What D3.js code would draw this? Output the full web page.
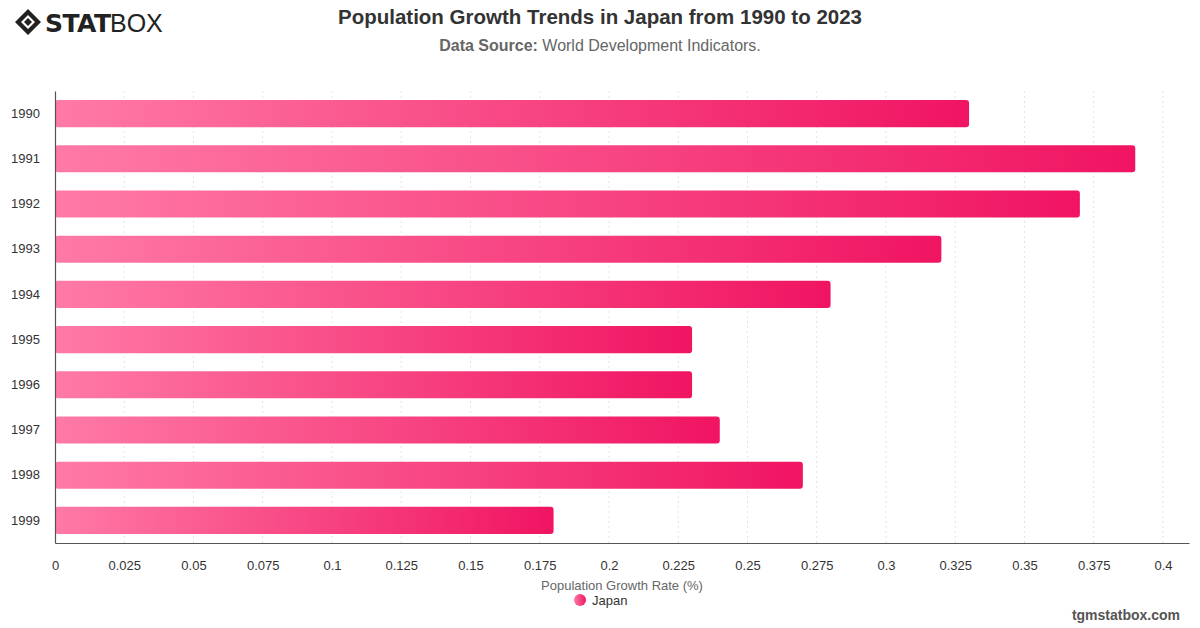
<!DOCTYPE html>
<html>
<head>
<meta charset="utf-8">
<script src="https://cdn.jsdelivr.net/npm/d3@7"></script>
<style>
  body { margin: 0; background: #fff; font-family: "Helvetica Neue", "Liberation Sans", Arial, sans-serif; }
  .tick text { fill: #333; font-size: 13px; }
</style>
</head>
<body>
<script>
// Population growth chart

var years = ['1990', '1991', '1992', '1993', '1994', '1995', '1996', '1997', '1998', '1999'];
var growthRates = [0.33, 0.39, 0.37, 0.32, 0.28, 0.23, 0.23, 0.24, 0.27, 0.18];
var xTicks = [0, 0.025, 0.05, 0.075, 0.1, 0.125, 0.15, 0.175, 0.2, 0.225, 0.25, 0.275, 0.3, 0.325, 0.35, 0.375, 0.4];

var data = years.map(function(y, i) { return { year: y, value: growthRates[i] }; });

var svg = d3.select('body').append('svg')
  .attr('width', 1200)
  .attr('height', 628);

var margin = { top: 91, right: 11, bottom: 85, left: 55 };
var width = 1200 - margin.left - margin.right,
  height = 628 - margin.top - margin.bottom;

var x = d3.scaleLinear().domain([0, 0.4094]).range([0, width]);
var y = d3.scaleBand().domain(years).range([0, height]).paddingInner(0.4).paddingOuter(0.2);

var defs = svg.append('defs');
var grad = defs.append('linearGradient').attr('id', 'barGrad')
  .attr('x1', '0%').attr('x2', '100%').attr('y1', '0%').attr('y2', '0%');
grad.append('stop').attr('offset', '0%').attr('stop-color', '#ff7aa6');
grad.append('stop').attr('offset', '100%').attr('stop-color', '#f01462');

var g = svg.append('g')
  .attr('transform', 'translate(' + margin.left + ',' + margin.top + ')');

// grid lines
g.selectAll('.grid')
  .data(xTicks.slice(1))
  .enter().append('line')
  .attr('class', 'grid')
  .attr('x1', function(d) { return x(d); })
  .attr('x2', function(d) { return x(d); })
  .attr('y1', 0)
  .attr('y2', height)
  .attr('stroke', '#e4e4e4')
  .attr('stroke-dasharray', '2,3');

// bars
g.selectAll('.bar')
  .data(data)
  .enter().append('rect')
  .attr('class', 'bar')
  .attr('x', 0)
  .attr('y', function(d) { return y(d.year); })
  .attr('width', function(d) { return x(d.value); })
  .attr('height', y.bandwidth())
  .attr('rx', 3)
  .attr('fill', 'url(#barGrad)');

// axes
var xAxis = g.append('g')
  .attr('transform', 'translate(0,' + height + ')')
  .call(d3.axisBottom(x).tickValues(xTicks).tickSize(0).tickPadding(18)
    .tickFormat(function(d) { return String(+d.toFixed(3)); }));
xAxis.select('.domain').attr('stroke', '#555').attr('stroke-width', 1.2);
xAxis.selectAll('text').style('font-family', 'inherit');

var yAxis = g.append('g')
  .call(d3.axisLeft(y).tickSize(0).tickPadding(15));
yAxis.select('.domain').attr('stroke', '#555').attr('stroke-width', 1.2);
yAxis.selectAll('text').style('font-family', 'inherit');

// axis label
svg.append('text')
  .attr('x', 622)
  .attr('y', 590)
  .attr('text-anchor', 'middle')
  .style('font-size', '13px')
  .style('fill', '#666')
  .text('Population Growth Rate (%)');

// legend
svg.append('circle')
  .attr('cx', 580).attr('cy', 600).attr('r', 6)
  .attr('fill', 'url(#barGrad)');
svg.append('text')
  .attr('x', 592).attr('y', 605)
  .style('font-size', '13px')
  .style('fill', '#333')
  .text('Japan');

// title
svg.append('text')
  .attr('x', 600).attr('y', 24)
  .attr('text-anchor', 'middle')
  .style('font-size', '20.5px')
  .style('font-weight', 'bold')
  .style('fill', '#333')
  .text('Population Growth Trends in Japan from 1990 to 2023');

var sub = svg.append('text')
  .attr('x', 600).attr('y', 51)
  .attr('text-anchor', 'middle')
  .style('font-size', '16px')
  .style('fill', '#666');
sub.append('tspan').style('font-weight', 'bold').text('Data Source: ');
sub.append('tspan').text('World Development Indicators.');

// footer
svg.append('text')
  .attr('x', 1180).attr('y', 620)
  .attr('text-anchor', 'end')
  .style('font-size', '14px')
  .style('font-weight', 'bold')
  .style('fill', '#555')
  .text('tgmstatbox.com');

// logo
var logo = svg.append('g').attr('transform', 'translate(15,8)');
logo.append('path')
  .attr('d', 'M13,1 L26,14 L13,27 L0,14 Z M13,7 L6,14 L13,21 L20,14 Z')
  .attr('fill', '#222').attr('fill-rule', 'evenodd');
logo.append('path')
  .attr('d', 'M13,10 L17,14 L13,18 L9,14 Z').attr('fill', '#222');
logo.append('text')
  .attr('x', 30).attr('y', 24)
  .style('font-size', '25px')
  .style('font-weight', '900')
  .style('font-family', '"DejaVu Sans", sans-serif')
  .style('fill', '#222')
  .style('letter-spacing', '-0.5px')
  .text('STAT');
logo.append('text')
  .attr('x', 95).attr('y', 24)
  .style('font-size', '25px')
  .style('font-weight', '300')
  .style('fill', '#222')
  .text('BOX');
</script>
</body>
</html>
